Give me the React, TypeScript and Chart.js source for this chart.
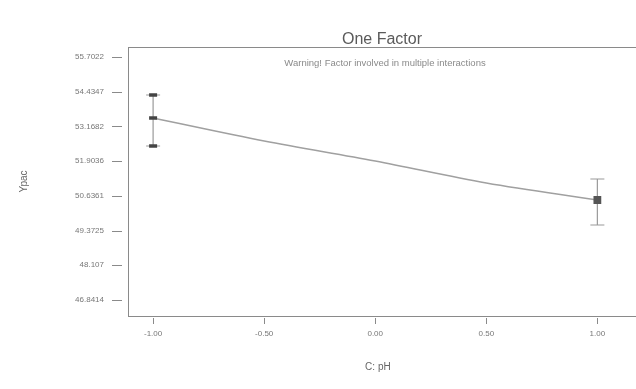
import React, { useEffect, useRef } from "react";
import { Chart, registerables } from "chart.js";

Chart.register(...registerables);

// Predicted response curve (Ypac vs C: pH)
const factorLevels = [-1, -0.5, 0, 0.5, 1];
const predicted = [53.478, 52.64, 51.91, 51.108, 50.488];

// Design points with confidence bands
const designX = [-1, 1];
const designMean = [53.478, 50.488];
const upperCI = [54.317, 51.254];
const lowerCI = [52.457, 49.577];

// Axis ticks
const yTickValues = [46.8414, 48.107, 49.3725, 50.6361, 51.9036, 53.1682, 54.4347, 55.7022];
const yTickLabels = ["46.8414", "48.107", "49.3725", "50.6361", "51.9036", "53.1682", "54.4347", "55.7022"];
const xTickValues = [-1, -0.5, 0, 0.5, 1];
const xTickLabels = ["-1.00", "-0.50", "0.00", "0.50", "1.00"];

const titleText = "One Factor";
const subtitleText = "Warning! Factor involved in multiple interactions";
const xTitle = "C: pH";
const yTitle = "Ypac";

const FONT = "'Liberation Sans', Arial, sans-serif";

export default function App() {
  const ref = useRef<HTMLCanvasElement | null>(null);

  useEffect(() => {
    if (!ref.current) return;

    const framePlugin = {
      id: "frameAndTitles",
      afterDraw(chart: any) {
        const { ctx, chartArea } = chart;
        const xs = chart.scales.x;
        const ys = chart.scales.y;
        ctx.save();
        ctx.strokeStyle = "#8a8a8a";
        ctx.lineWidth = 1;
        ctx.beginPath();
        ctx.moveTo(chartArea.left, chartArea.top + 0.5);
        ctx.lineTo(chart.width, chartArea.top + 0.5);
        ctx.moveTo(chartArea.right, chartArea.bottom + 0.5);
        ctx.lineTo(chart.width, chartArea.bottom + 0.5);
        // tick marks
        yTickValues.forEach((v) => {
          const py = Math.round(ys.getPixelForValue(v)) + 0.5;
          ctx.moveTo(chartArea.left - 16, py);
          ctx.lineTo(chartArea.left - 6, py);
        });
        xTickValues.forEach((v) => {
          const px = Math.round(xs.getPixelForValue(v)) + 0.5;
          ctx.moveTo(px, chartArea.bottom + 2);
          ctx.lineTo(px, chartArea.bottom + 8);
        });
        ctx.stroke();
        ctx.fillStyle = "#5a5a5a";
        ctx.textAlign = "center";
        ctx.textBaseline = "middle";
        ctx.font = `16px ${FONT}`;
        ctx.fillText(titleText, 382, 40);
        ctx.fillStyle = "#8a8a8a";
        ctx.font = `9.5px ${FONT}`;
        ctx.fillText(subtitleText, 385, 63);
        ctx.restore();
      },
    };

    const errorSets: any[] = [];
    designX.forEach((x, i) => {
      errorSets.push({
        type: "line",
        data: [
          { x, y: lowerCI[i] },
          { x, y: upperCI[i] },
        ],
        borderColor: "#9a9a9a",
        borderWidth: 1.2,
        pointStyle: "line",
        pointRadius: 7,
        pointBorderColor: "#9a9a9a",
        pointBorderWidth: 1.2,
        order: 3,
      });
    });

    const chart = new Chart(ref.current, {
      type: "scatter",
      data: {
        datasets: [
          {
            type: "line",
            data: factorLevels.map((x, i) => ({ x, y: predicted[i] })),
            borderColor: "#a0a0a0",
            borderWidth: 1.5,
            pointRadius: 0,
            cubicInterpolationMode: "monotone",
            order: 2,
          } as any,
          ...errorSets,
          {
            type: "scatter",
            data: [
              { x: designX[0], y: designMean[0] },
              { x: designX[0], y: upperCI[0] },
              { x: designX[0], y: lowerCI[0] },
            ],
            pointStyle: "line",
            pointRadius: 4,
            pointBorderWidth: 3.5,
            pointBorderColor: "#444",
            pointBackgroundColor: "#444",
            order: 1,
          } as any,
          {
            type: "scatter",
            data: [{ x: designX[1], y: designMean[1] }],
            pointStyle: "rect",
            pointRadius: 5.5,
            pointBorderWidth: 0,
            pointBackgroundColor: "#555",
            order: 1,
          } as any,
        ],
      },
      options: {
        animation: false,
        responsive: false,
        maintainAspectRatio: false,
        layout: { padding: { left: 14, top: 47, right: 0, bottom: 12 } },
        plugins: {
          legend: { display: false },
          tooltip: { enabled: false },
          title: { display: false },
        },
        scales: {
          x: {
            type: "linear",
            min: -1.113,
            max: 1.137,
            afterBuildTicks: (scale: any) => {
              scale.ticks = xTickValues.map((v) => ({ value: v }));
            },
            afterFit: (scale: any) => {
              scale.height = 389 - 12 - 316;
            },
            ticks: {
              callback: (v: any) => {
                const idx = xTickValues.indexOf(Number(v));
                return idx >= 0 ? xTickLabels[idx] : "";
              },
              font: { family: FONT, size: 8 },
              color: "#777",
              padding: 5,
              maxRotation: 0,
              autoSkip: false,
            },
            grid: { display: false },
            border: { display: true, color: "#8a8a8a" },
            title: { display: true, text: xTitle, font: { family: FONT, size: 10 }, color: "#666", padding: { top: 4, bottom: 4 } },
          },
          y: {
            type: "linear",
            min: 46.258,
            max: 56.067,
            afterBuildTicks: (scale: any) => {
              scale.ticks = yTickValues.map((v) => ({ value: v }));
            },
            afterFit: (scale: any) => {
              scale.width = 128 - 14;
            },
            ticks: {
              callback: (v: any) => {
                const idx = yTickValues.indexOf(Number(v));
                return idx >= 0 ? yTickLabels[idx] : "";
              },
              font: { family: FONT, size: 8 },
              color: "#777",
              padding: 16,
              autoSkip: false,
            },
            grid: { display: false },
            border: { display: true, color: "#8a8a8a" },
            title: { display: true, text: yTitle, font: { family: FONT, size: 10 }, color: "#666", padding: { top: 4, bottom: 4 } },
          },
        },
      } as any,
      plugins: [framePlugin],
    });

    return () => chart.destroy();
  }, []);

  return (
    <div style={{ position: "fixed", left: 0, top: 0, width: 636, height: 389, overflow: "hidden", background: "#fff" }}>
      <canvas ref={ref} width={636} height={389} style={{ display: "block", width: 636, height: 389 }} />
    </div>
  );
}
